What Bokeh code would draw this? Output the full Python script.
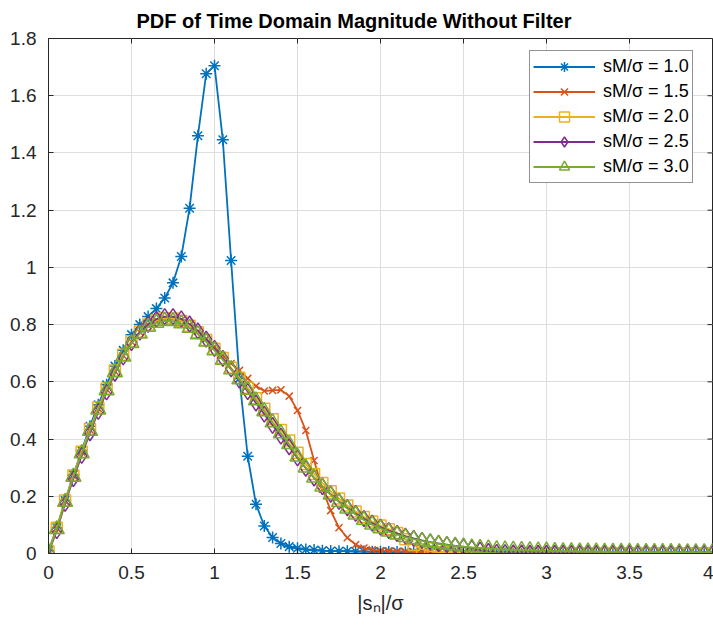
import math
from bokeh.plotting import figure
from bokeh.models import Range1d, Legend, LegendItem, FixedTicker
from bokeh.embed import file_html
from bokeh.resources import INLINE

FONT = "Liberation Sans"
INK = "#262626"

# ---------------- data ----------------
X = [0.00, 0.05, 0.10, 0.15, 0.20, 0.25, 0.30, 0.35, 0.40, 0.45,
     0.50, 0.55, 0.60, 0.65, 0.70, 0.75, 0.80, 0.85, 0.90, 0.95,
     1.00, 1.05, 1.10, 1.15, 1.20, 1.25, 1.30, 1.35, 1.40, 1.45,
     1.50, 1.55, 1.60, 1.65, 1.70, 1.75, 1.80, 1.85, 1.90, 1.95,
     2.00, 2.05, 2.10, 2.15, 2.20, 2.25, 2.30, 2.35, 2.40, 2.45,
     2.50, 2.55, 2.60, 2.65, 2.70, 2.75, 2.80, 2.85, 2.90, 2.95,
     3.00, 3.05, 3.10, 3.15, 3.20, 3.25, 3.30, 3.35, 3.40, 3.45,
     3.50, 3.55, 3.60, 3.65, 3.70, 3.75, 3.80, 3.85, 3.90, 3.95,
     4.00]

PDF_10 = [0.010, 0.090, 0.185, 0.275, 0.360, 0.445, 0.520, 0.590, 0.655, 0.710,
          0.765, 0.800, 0.828, 0.856, 0.893, 0.946, 1.038, 1.207, 1.460, 1.677,
          1.705, 1.446, 1.024, 0.612, 0.340, 0.172, 0.096, 0.056, 0.035, 0.024,
          0.018, 0.014, 0.012, 0.010, 0.009, 0.008, 0.008, 0.007, 0.007, 0.006,
          0.006, 0.005, 0.005, 0.004, 0.004, 0.004, 0.003, 0.003, 0.003, 0.002,
          0.002, 0.002, 0.002, 0.001, 0.001, 0.001, 0.001, 0.001, 0.001, 0.001,
          0.001, 0.001, 0.001, 0.001, 0.000, 0.000, 0.000, 0.000, 0.000, 0.000,
          0.000, 0.000, 0.000, 0.000, 0.000, 0.000, 0.000, 0.000, 0.000, 0.000,
          0.000]

PDF_15 = [0.008, 0.088, 0.183, 0.271, 0.354, 0.432, 0.507, 0.574, 0.637, 0.692,
          0.740, 0.774, 0.799, 0.815, 0.822, 0.822, 0.815, 0.799, 0.777, 0.751,
          0.722, 0.692, 0.664, 0.640, 0.612, 0.585, 0.568, 0.570, 0.572, 0.550,
          0.500, 0.430, 0.325, 0.225, 0.150, 0.090, 0.055, 0.031, 0.019, 0.013,
          0.010, 0.009, 0.008, 0.007, 0.006, 0.005, 0.004, 0.004, 0.003, 0.003,
          0.002, 0.002, 0.002, 0.001, 0.001, 0.001, 0.001, 0.001, 0.001, 0.001,
          0.001, 0.001, 0.000, 0.000, 0.000, 0.000, 0.000, 0.000, 0.000, 0.000,
          0.000, 0.000, 0.000, 0.000, 0.000, 0.000, 0.000, 0.000, 0.000, 0.000,
          0.000]

PDF_20 = [0.008, 0.090, 0.185, 0.273, 0.356, 0.435, 0.510, 0.577, 0.640, 0.695,
          0.742, 0.775, 0.800, 0.815, 0.822, 0.821, 0.813, 0.796, 0.773, 0.746,
          0.716, 0.683, 0.649, 0.614, 0.579, 0.543, 0.506, 0.469, 0.432, 0.395,
          0.352, 0.313, 0.278, 0.246, 0.218, 0.192, 0.168, 0.147, 0.128, 0.112,
          0.098, 0.085, 0.072, 0.050, 0.030, 0.015, 0.008, 0.005, 0.004, 0.003,
          0.003, 0.002, 0.002, 0.002, 0.002, 0.001, 0.001, 0.001, 0.001, 0.001,
          0.001, 0.001, 0.001, 0.001, 0.001, 0.001, 0.001, 0.001, 0.001, 0.001,
          0.001, 0.001, 0.001, 0.001, 0.001, 0.001, 0.001, 0.001, 0.001, 0.001,
          0.001]

PDF_25 = [0.003, 0.080, 0.175, 0.262, 0.343, 0.422, 0.497, 0.565, 0.630, 0.687,
          0.737, 0.774, 0.801, 0.819, 0.828, 0.828, 0.820, 0.802, 0.778, 0.749,
          0.717, 0.682, 0.645, 0.606, 0.566, 0.526, 0.487, 0.448, 0.410, 0.373,
          0.334, 0.298, 0.264, 0.234, 0.207, 0.182, 0.160, 0.140, 0.122, 0.106,
          0.092, 0.080, 0.070, 0.061, 0.053, 0.046, 0.040, 0.035, 0.031, 0.027,
          0.023, 0.018, 0.012, 0.007, 0.004, 0.003, 0.002, 0.002, 0.001, 0.001,
          0.001, 0.001, 0.001, 0.001, 0.001, 0.000, 0.000, 0.000, 0.000, 0.000,
          0.000, 0.000, 0.000, 0.000, 0.000, 0.000, 0.000, 0.000, 0.000, 0.000,
          0.000]

PDF_30 = [0.005, 0.085, 0.180, 0.268, 0.350, 0.428, 0.503, 0.570, 0.633, 0.688,
          0.735, 0.768, 0.792, 0.806, 0.813, 0.812, 0.804, 0.788, 0.766, 0.740,
          0.710, 0.677, 0.643, 0.608, 0.572, 0.535, 0.497, 0.458, 0.420, 0.382,
          0.338, 0.300, 0.265, 0.234, 0.206, 0.180, 0.157, 0.136, 0.117, 0.101,
          0.088, 0.076, 0.066, 0.057, 0.050, 0.044, 0.039, 0.034, 0.030, 0.027,
          0.024, 0.021, 0.019, 0.017, 0.015, 0.014, 0.013, 0.012, 0.011, 0.010,
          0.010, 0.009, 0.008, 0.008, 0.007, 0.007, 0.007, 0.006, 0.006, 0.006,
          0.006, 0.005, 0.005, 0.005, 0.005, 0.005, 0.004, 0.004, 0.004, 0.004,
          0.004]

SERIES_LABELS = ["sM/\u03c3 = 1.0", "sM/\u03c3 = 1.5", "sM/\u03c3 = 2.0",
                 "sM/\u03c3 = 2.5", "sM/\u03c3 = 3.0"]
SERIES_VALUES = [PDF_10, PDF_15, PDF_20, PDF_25, PDF_30]
COLORS = ["#0072BD", "#D95319", "#EDB120", "#7E2F8E", "#77AC30"]
MARKERS = ["asterisk", "x", "square", "diamond", "triangle"]
MARKER_SIZES = [12, 10, 11, 16, 15]

X_MIN, X_MAX = 0, 4
Y_MIN, Y_MAX = 0, 1.8
X_TICKS = [0, 0.5, 1, 1.5, 2, 2.5, 3, 3.5, 4]
X_TICK_LABELS = ["0", "0.5", "1", "1.5", "2", "2.5", "3", "3.5", "4"]
Y_TICKS = [0, 0.2, 0.4, 0.6, 0.8, 1.0, 1.2, 1.4, 1.6, 1.8]
Y_TICK_LABELS = ["0", "0.2", "0.4", "0.6", "0.8", "1", "1.2", "1.4", "1.6", "1.8"]

TITLE = "PDF of Time Domain Magnitude Without Filter"
X_LABEL = "|s\u2099|/\u03c3"

# ---------------- figure ----------------
p = figure(width=713, height=625, output_backend="svg", toolbar_location=None,
           x_range=Range1d(X_MIN, X_MAX), y_range=Range1d(Y_MIN, Y_MAX),
           min_border_left=48, min_border_right=1, min_border_top=38,
           min_border_bottom=72, title=TITLE)
p.background_fill_color = "white"
p.border_fill_color = "white"
p.outline_line_color = INK
p.outline_line_width = 1

p.title.align = "left"
p.title.offset = 88
p.title.standoff = 13
p.title.text_font = FONT
p.title.text_font_size = "20px"
p.title.text_font_style = "bold"
p.title.text_color = "#000000"

p.xaxis.ticker = FixedTicker(ticks=X_TICKS)
p.yaxis.ticker = FixedTicker(ticks=Y_TICKS)
p.xaxis.major_label_overrides = {t: s for t, s in zip(X_TICKS, X_TICK_LABELS)}
p.yaxis.major_label_overrides = {t: s for t, s in zip(Y_TICKS, Y_TICK_LABELS)}
for ax in (p.xaxis[0], p.yaxis[0]):
    ax.major_tick_in = 5
    ax.major_tick_out = 0
    ax.minor_tick_in = 0
    ax.minor_tick_out = 0
    ax.axis_line_color = INK
    ax.major_tick_line_color = INK
    ax.major_label_text_font = FONT
    ax.major_label_text_font_size = "19px"
    ax.major_label_text_color = INK
p.xaxis.major_label_standoff = 12
p.yaxis.major_label_standoff = 12

p.xaxis.axis_label = X_LABEL
p.xaxis.axis_label_text_font = FONT
p.xaxis.axis_label_text_font_size = "20px"
p.xaxis.axis_label_text_font_style = "normal"
p.xaxis.axis_label_text_color = INK
p.xaxis.axis_label_standoff = 10

for grid in (p.xgrid[0], p.ygrid[0]):
    grid.grid_line_color = "#dedede"
    grid.grid_line_width = 1

# tick marks on the top and right edges of the box (pointing inward)
p.ray(x=X_TICKS, y=Y_MAX, length=5, length_units="screen", angle=-math.pi / 2,
      line_color=INK, line_width=1)
p.ray(x=X_MAX, y=Y_TICKS, length=5, length_units="screen", angle=math.pi,
      line_color=INK, line_width=1)

items = []
for lab, vals, col, mk, sz in zip(SERIES_LABELS, SERIES_VALUES, COLORS, MARKERS, MARKER_SIZES):
    lr = p.line(X, vals, line_color=col, line_width=1.8)
    sr = p.scatter(X, vals, marker=mk, size=sz, line_color=col, line_width=1.5,
                   fill_color=None)
    items.append(LegendItem(label=lab, renderers=[lr, sr]))

legend = Legend(items=items, location=(481, 370),
                label_text_font=FONT, label_text_font_size="18px",
                label_text_color="#000000",
                glyph_width=62, glyph_height=25, label_height=25,
                spacing=0, padding=3, margin=0, label_standoff=8,
                border_line_color=INK, border_line_width=1,
                background_fill_color="white", background_fill_alpha=1)
p.add_layout(legend)

open("out.html", "w").write(file_html(p, INLINE))
